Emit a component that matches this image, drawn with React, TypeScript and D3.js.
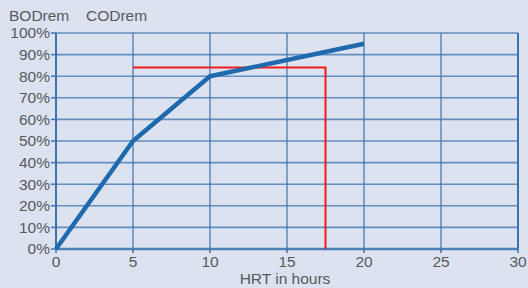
import React from "react";
import * as d3 from "d3";

// HRT (hours) vs removal
const hrt = [0, 5, 10, 20];
const removal = [0, 50, 80, 95];

// red read-off guide: from HRT 5 at 84% across to HRT 17.5, then down
const guideX = [5, 17.5, 17.5];
const guideY = [84, 84, 0];

const xTicks = [0, 5, 10, 15, 20, 25, 30];
const yTicks = [0, 10, 20, 30, 40, 50, 60, 70, 80, 90, 100];
const legendLabels = ["BODrem", "CODrem"];

const W = 528;
const H = 288;
const margin = { left: 56, right: 10, top: 33, bottom: 39 };

export default function App() {
  const x = d3.scaleLinear().domain([0, 30]).range([margin.left, W - margin.right]);
  const y = d3.scaleLinear().domain([0, 100]).range([H - margin.bottom, margin.top]);

  const line = d3
    .line<number>()
    .x((_, i) => x(hrt[i]))
    .y((d) => y(d));

  const guide = d3
    .line<number>()
    .x((_, i) => x(guideX[i]))
    .y((d) => y(d));

  const font = "'Liberation Sans', Arial, sans-serif";
  const grid = "#3d72ad";
  const textCol = "#555a60";
  const fs = 15.5;

  return (
    <svg
      width={W}
      height={H}
      style={{ position: "fixed", left: 0, top: 0, background: "#dce2f0" }}
      fontFamily={font}
    >
      <rect x={0} y={0} width={W} height={H} fill="#dce2f0" />

      {/* headings */}
      {legendLabels.map((t, i) => (
        <text key={t} x={9 + i * 77} y={21} fontSize={fs} fill={textCol}>
          {t}
        </text>
      ))}

      {/* horizontal grid */}
      {yTicks.map((t) => (
        <line
          key={"h" + t}
          x1={x(0)}
          x2={x(30)}
          y1={y(t)}
          y2={y(t)}
          stroke="#4d80b8"
          strokeWidth={t === 0 ? 2.5 : 1.6}
          opacity={t === 0 ? 1 : 0.85}
        />
      ))}

      {/* vertical grid */}
      {xTicks.map((t) => (
        <line
          key={"v" + t}
          x1={x(t)}
          x2={x(t)}
          y1={y(0)}
          y2={y(100)}
          stroke={grid}
          strokeWidth={t === 0 || t === 30 ? 2 : 1.2}
        />
      ))}

      {/* tick marks */}
      {yTicks.map((t) => (
        <line key={"yt" + t} x1={x(0) - 5} x2={x(0)} y1={y(t)} y2={y(t)} stroke={grid} strokeWidth={1.5} />
      ))}
      {xTicks.map((t) => (
        <line key={"xt" + t} x1={x(t)} x2={x(t)} y1={y(0)} y2={y(0) + 4} stroke={grid} strokeWidth={1.5} />
      ))}

      {/* y labels */}
      {yTicks.map((t) => (
        <text
          key={"yl" + t}
          x={x(0) - 6}
          y={y(t)}
          dy="0.35em"
          textAnchor="end"
          fontSize={fs}
          fill={textCol}
        >
          {t}%
        </text>
      ))}

      {/* x labels */}
      {xTicks.map((t) => (
        <text
          key={"xl" + t}
          x={x(t)}
          y={y(0) + 18}
          textAnchor="middle"
          fontSize={fs}
          fill={textCol}
        >
          {t}
        </text>
      ))}
      <text x={x(15) - 2} y={H - 4} textAnchor="middle" fontSize={fs} fill={textCol}>
        HRT in hours
      </text>

      {/* red guide */}
      <path d={guide(guideY) || ""} fill="none" stroke="#ee1c1c" strokeWidth={2} />

      {/* data line */}
      <path
        d={line(removal) || ""}
        fill="none"
        stroke="#1f69ad"
        strokeWidth={4.5}
        strokeLinejoin="round"
      />
    </svg>
  );
}
